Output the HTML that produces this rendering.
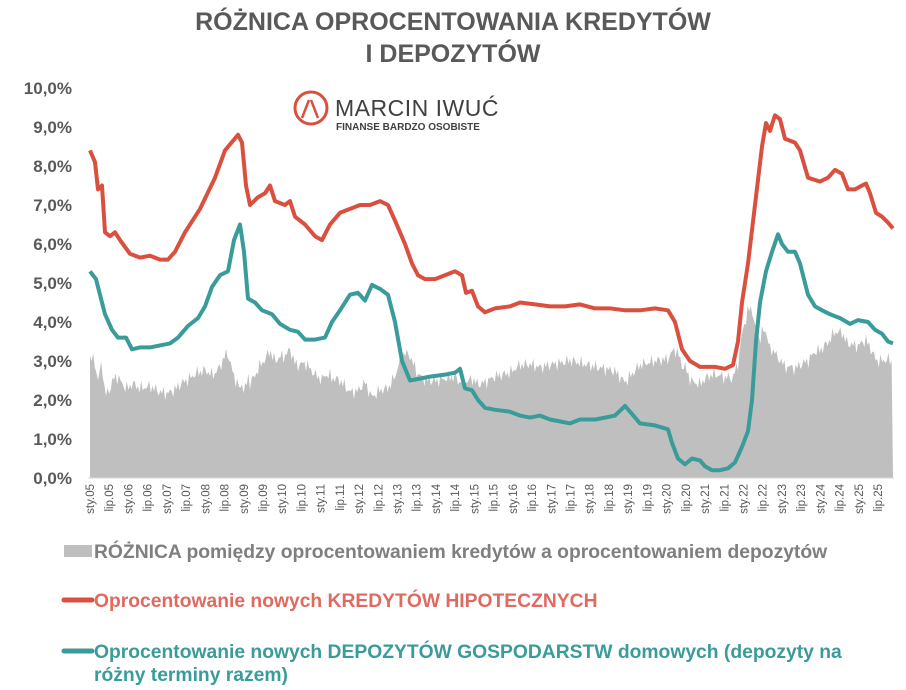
<!DOCTYPE html>
<html><head><meta charset="utf-8"><style>
body{margin:0;background:#fff;}
svg{display:block;font-family:"Liberation Sans",Arial,sans-serif;}
</style></head><body>
<svg id="s" width="906" height="690" viewBox="0 0 906 690" xmlns="http://www.w3.org/2000/svg">
<rect width="906" height="690" fill="#fff"/>
<text x="453" y="30" text-anchor="middle" font-size="25" font-weight="bold" fill="#595959">RÓŻNICA OPROCENTOWANIA KREDYTÓW</text>
<text x="453" y="62" text-anchor="middle" font-size="25" font-weight="bold" fill="#595959">I DEPOZYTÓW</text>
<g font-size="17" font-weight="bold" fill="#595959" text-anchor="end" id="yl"></g>
<path id="area" fill="#bfbfbf"/>
<path id="red" fill="none" stroke="#d9503f" stroke-width="4" stroke-linejoin="round"/>
<path id="teal" fill="none" stroke="#3a9c9a" stroke-width="4" stroke-linejoin="round"/>
<line x1="88" y1="478" x2="894" y2="478" stroke="#d9d9d9"/>
<g id="xl" font-size="11.5" fill="#595959"></g>
<!-- logo -->
<circle cx="311" cy="108" r="16" fill="none" stroke="#d9503f" stroke-width="3"/>
<path d="M302 118 L309 100 M311 100 L318 118" stroke="#d9503f" stroke-width="2.5" fill="none"/>
<text x="335" y="116" font-size="23" fill="#404040" letter-spacing="0.5">MARCIN IWUĆ</text>
<text x="336" y="130" font-size="10" font-weight="bold" fill="#404040">FINANSE BARDZO OSOBISTE</text>
<!-- legend -->
<g font-size="19.3" font-weight="bold">
<rect x="64" y="545" width="28" height="12" fill="#bfbfbf"/>
<text x="94" y="558" fill="#7f7f7f">RÓŻNICA pomiędzy oprocentowaniem kredytów a oprocentowaniem depozytów</text>
<line x1="64" y1="600" x2="92" y2="600" stroke="#d9503f" stroke-width="5" stroke-linecap="round"/>
<text x="94" y="607" fill="#e06a60">Oprocentowanie nowych KREDYTÓW HIPOTECZNYCH</text>
<line x1="64" y1="651" x2="92" y2="651" stroke="#3a9c9a" stroke-width="5" stroke-linecap="round"/>
<text x="94" y="658" fill="#3a9c9a">Oprocentowanie nowych DEPOZYTÓW GOSPODARSTW domowych (depozyty na</text>
<text x="94" y="681" fill="#3a9c9a">różny terminy razem)</text>
</g>
</svg>
<script>
const Y=v=>478-v*39;
const red=[[90,8.4],[95,8.1],[98,7.4],[102,7.5],[105,6.3],[110,6.2],[115,6.3],[120,6.1],[130,5.75],[140,5.65],[150,5.7],[160,5.6],[168,5.6],[175,5.8],[185,6.3],[200,6.9],[215,7.7],[225,8.4],[238,8.8],[242,8.6],[246,7.5],[250,7.0],[258,7.2],[265,7.3],[270,7.5],[275,7.1],[285,7.0],[290,7.1],[295,6.7],[305,6.5],[315,6.2],[322,6.1],[330,6.5],[340,6.8],[350,6.9],[360,7.0],[370,7.0],[380,7.1],[388,7.0],[395,6.6],[405,6.0],[412,5.5],[418,5.2],[425,5.1],[435,5.1],[445,5.2],[455,5.3],[462,5.2],[466,4.75],[472,4.8],[478,4.4],[485,4.25],[495,4.35],[510,4.4],[520,4.5],[535,4.45],[550,4.4],[565,4.4],[580,4.45],[595,4.35],[610,4.35],[625,4.3],[640,4.3],[655,4.35],[668,4.3],[675,4.0],[682,3.3],[690,3.0],[700,2.85],[715,2.85],[725,2.8],[733,2.9],[738,3.5],[742,4.5],[748,5.5],[755,7.0],[762,8.5],[766,9.1],[770,8.9],[775,9.3],[780,9.2],[785,8.7],[795,8.6],[800,8.4],[808,7.7],[820,7.6],[828,7.7],[835,7.9],[842,7.8],[848,7.4],[855,7.4],[862,7.5],[866,7.55],[870,7.3],[876,6.8],[882,6.7],[888,6.55],[893,6.4]];
const teal=[[90,5.3],[96,5.1],[100,4.7],[105,4.2],[112,3.8],[118,3.6],[126,3.6],[132,3.3],[140,3.35],[150,3.35],[160,3.4],[170,3.45],[178,3.6],[188,3.9],[198,4.1],[205,4.4],[212,4.9],[220,5.2],[228,5.3],[234,6.1],[240,6.5],[244,5.8],[248,4.6],[255,4.5],[262,4.3],[272,4.2],[280,3.95],[290,3.8],[298,3.75],[305,3.55],[315,3.55],[325,3.6],[332,4.0],[340,4.3],[350,4.7],[358,4.75],[365,4.55],[372,4.95],[380,4.85],[388,4.7],[395,4.0],[402,3.0],[410,2.5],[420,2.55],[430,2.6],[445,2.65],[455,2.7],[460,2.8],[465,2.3],[472,2.25],[478,2.0],[485,1.8],[495,1.75],[510,1.7],[520,1.6],[530,1.55],[540,1.6],[550,1.5],[560,1.45],[570,1.4],[580,1.5],[595,1.5],[605,1.55],[615,1.6],[625,1.85],[630,1.7],[640,1.4],[655,1.35],[668,1.25],[672,0.9],[678,0.5],[685,0.35],[692,0.5],[700,0.45],[705,0.3],[712,0.2],[720,0.2],[728,0.25],[735,0.4],[742,0.8],[748,1.2],[752,2.0],[756,3.5],[760,4.5],[766,5.3],[772,5.8],[778,6.25],[782,6.0],[788,5.8],[795,5.8],[800,5.5],[808,4.7],[815,4.4],[822,4.3],[830,4.2],[840,4.1],[850,3.95],[858,4.05],[868,4.0],[875,3.8],[882,3.7],[888,3.5],[893,3.45]];
const interp=(a,x)=>{for(let i=1;i<a.length;i++){if(x<=a[i][0]){const t=(x-a[i-1][0])/(a[i][0]-a[i-1][0]);return a[i-1][1]+t*(a[i][1]-a[i-1][1]);}}return a[a.length-1][1];};
const P=a=>'M'+a.map(p=>p[0]+' '+Y(p[1]).toFixed(1)).join(' L');
document.getElementById('red').setAttribute('d',P(red));
document.getElementById('teal').setAttribute('d',P(teal));
let d='M90 478';
for(let x=90;x<=893;x+=1.6){let v=interp(red,x)-interp(teal,x)+0.12*Math.sin(x*1.7)+0.08*Math.sin(x*0.9);d+=' L'+x.toFixed(1)+' '+Y(Math.max(0,v)).toFixed(1);}
d+=' L893 478 Z';document.getElementById('area').setAttribute('d',d);
let yl='';for(let i=0;i<=10;i++)yl+=`<text x="72" y="${Y(i)+6}">${i},0%</text>`;
document.getElementById('yl').innerHTML=yl;
let xl='';for(let i=0;i<42;i++){const yr=String(5+Math.floor(i/2)).padStart(2,'0');const lab=(i%2?'lip.':'sty.')+yr;const x=90+i*19.22;xl+=`<text transform="translate(${x+4},484) rotate(-90)" text-anchor="end">${lab}</text>`;}
document.getElementById('xl').innerHTML=xl;
</script>
</body></html>
